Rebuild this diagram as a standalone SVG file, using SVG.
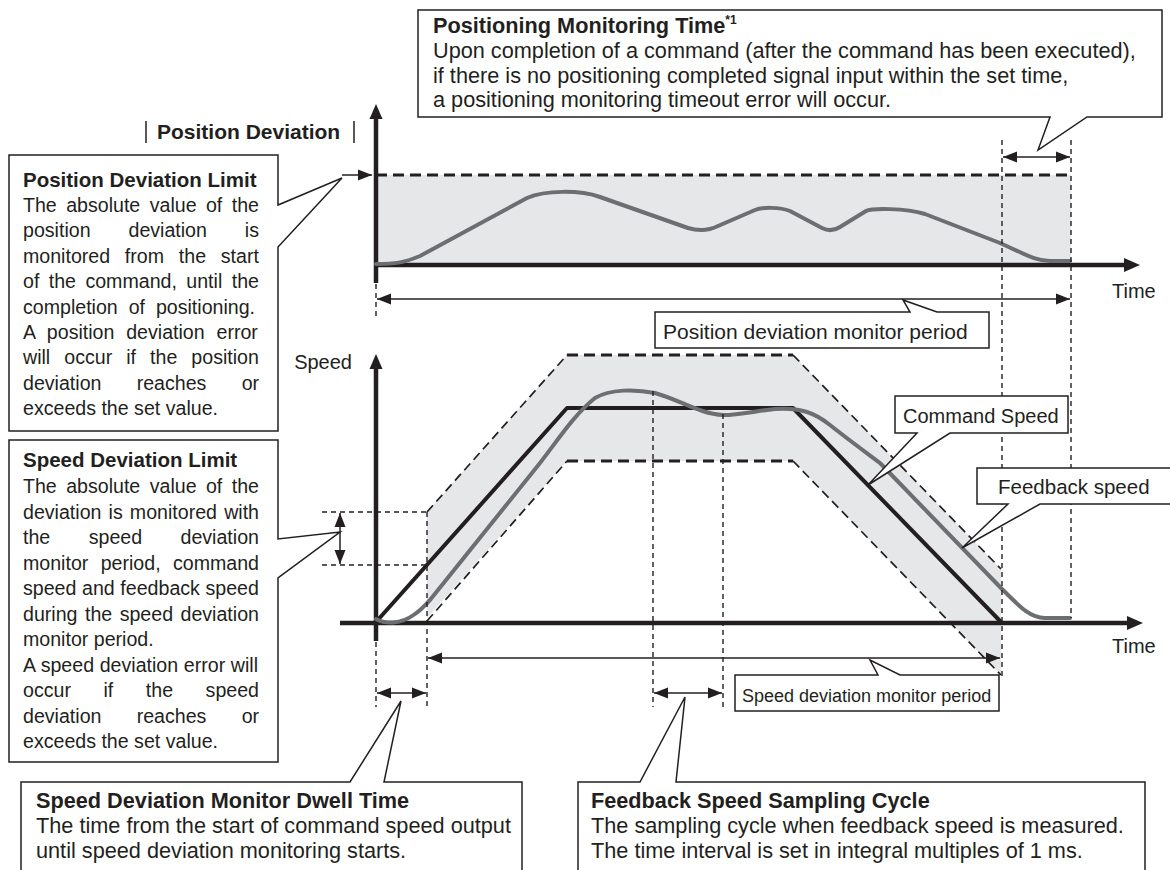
<svg xmlns="http://www.w3.org/2000/svg" width="1170" height="870" viewBox="0 0 1170 870">
<defs>
<style>
.t{font-family:"Liberation Sans",Arial,Helvetica,sans-serif;fill:#231f20}
.b{font-weight:bold}
.lb{font-size:19.6px}
.lt{font-size:20.5px;font-weight:bold}
.big{font-size:21.7px}
.box{fill:#fff;stroke:#231f20;stroke-width:1.5}
.thin{stroke:#231f20;stroke-width:1.5;fill:none}
.guide{stroke:#231f20;stroke-width:1.4;stroke-dasharray:5 4;fill:none}
.lim{stroke:#231f20;stroke-width:3;stroke-dasharray:11 6;fill:none}
.diag{stroke:#231f20;stroke-width:1.7;stroke-dasharray:9 5;fill:none}
.axis{stroke:#231f20;stroke-width:4.5;fill:none}
.cmd{stroke:#231f20;stroke-width:4;fill:none;stroke-linejoin:round}
.fb{stroke:#6d6e71;stroke-width:4;fill:none;stroke-linecap:round;stroke-linejoin:round}
.band{fill:#e6e7e8}
</style>
<marker id="ah" viewBox="0 0 14 12" refX="14" refY="6" markerWidth="14" markerHeight="12" markerUnits="userSpaceOnUse" orient="auto-start-reverse">
<path d="M0,0.5 L14,6 L0,11.5 Z" fill="#231f20"/>
</marker>
</defs>
<rect width="1170" height="870" fill="#fff"/>

<g id="position-graph">
<rect class="band" x="376" y="175" width="695" height="90"/>
<line class="lim" x1="376" y1="175" x2="1071" y2="175"/>
<line class="axis" x1="376" y1="116" x2="376" y2="283"/>
<polygon points="376,104 369.5,119 382.5,119" fill="#231f20"/>
<line class="axis" x1="376" y1="265" x2="1127" y2="265"/>
<polygon points="1140,265 1124,258 1124,272" fill="#231f20"/>
<path class="fb" d="M376,264 C395,264 403,263 420,256 L527,198 C545,190 580,190 600,197 L688,228 C698,231 708,231 718,226 L755,210 C762,207 780,207 790,211 L822,228 C828,231 834,231 840,227 L866,211 C872,208 905,208 925,214 L1000,243 C1025,254 1035,261 1050,261 L1070,261"/>
<text class="t" x="1112" y="298" font-size="20">Time</text>
</g>

<g id="position-deviation-label">
<line class="thin" x1="146" y1="121" x2="146" y2="143" stroke-width="2"/>
<text class="t b" x="157" y="139" font-size="21">Position Deviation</text>
<line class="thin" x1="354" y1="121" x2="354" y2="143" stroke-width="2"/>
</g>

<g id="speed-graph">
<polygon class="band" points="427,512 567,355 793,355 1001,569 1001,675 793,461 567,461 427,618"/>
<line class="lim" x1="567" y1="355" x2="793" y2="355" stroke-width="3.2"/>
<line class="lim" x1="567" y1="461" x2="793" y2="461" stroke-width="3.2"/>
<line class="diag" x1="427" y1="512" x2="567" y2="355"/>
<line class="diag" x1="793" y1="355" x2="1001" y2="569"/>
<line class="diag" x1="427" y1="621" x2="567" y2="461"/>
<line class="diag" x1="793" y1="461" x2="1001" y2="675"/>
<line class="axis" x1="376" y1="366" x2="376" y2="641"/>
<polygon points="376,354 369.5,369 382.5,369" fill="#231f20"/>
<line class="axis" x1="340" y1="623" x2="1130" y2="623"/>
<polygon points="1143,623 1127,616 1127,630" fill="#231f20"/>
<polyline class="cmd" points="376,622 567,408 793,408 1001,622"/>
<path class="fb" d="M376,619 C385,624 400,625 415,614 C422,609 426,604 430,600 L540,463 C560,437 575,414 595,398 C610,389 635,389 655,393 C680,400 700,414 723,415 C740,415 755,411 775,409 C800,407 815,413 830,425 C845,437 860,448 880,463 L1000,587 C1020,607 1030,618 1045,618 L1070,618"/>
<text class="t" x="352" y="369" font-size="20" text-anchor="end">Speed</text>
<text class="t" x="1112" y="653" font-size="20">Time</text>
</g>

<g id="connectors">
<line class="guide" x1="1002" y1="140" x2="1002" y2="676"/>
<line class="guide" x1="1071" y1="140" x2="1071" y2="618"/>
<line class="guide" x1="376" y1="284" x2="376" y2="318"/>
<line class="guide" x1="376" y1="642" x2="376" y2="707"/>
<line class="guide" x1="427" y1="512" x2="427" y2="707"/>
<line class="guide" x1="653" y1="391" x2="653" y2="707"/>
<line class="guide" x1="723" y1="414" x2="723" y2="707"/>
<line class="guide" x1="322" y1="512" x2="427" y2="512"/>
<line class="guide" x1="322" y1="565" x2="427" y2="565"/>
<line class="thin" x1="342" y1="175" x2="372" y2="175" marker-end="url(#ah)"/>
<line class="thin" x1="1003" y1="157" x2="1070" y2="157" stroke-width="2" marker-start="url(#ah)" marker-end="url(#ah)"/>
<line class="thin" x1="377" y1="299" x2="1070" y2="299" marker-start="url(#ah)" marker-end="url(#ah)"/>
<line class="thin" x1="428" y1="658" x2="1000" y2="658" marker-start="url(#ah)" marker-end="url(#ah)"/>
<line class="thin" x1="377" y1="693" x2="426" y2="693" stroke-width="2" marker-start="url(#ah)" marker-end="url(#ah)"/>
<line class="thin" x1="654" y1="693" x2="722" y2="693" stroke-width="2" marker-start="url(#ah)" marker-end="url(#ah)"/>
<line class="thin" x1="340" y1="513" x2="340" y2="564" stroke-width="2" marker-start="url(#ah)" marker-end="url(#ah)"/>
</g>

<g id="positioning-monitoring-time">
<path class="box" d="M418,10 H1162 V117 H1087 L1038,150 L1050,117 H418 Z"/>
<text class="t b big" x="433" y="33">Positioning Monitoring Time<tspan font-size="12" dy="-9">*1</tspan></text>
<text class="t big" x="433" y="58">Upon completion of a command (after the command has been executed),</text>
<text class="t big" x="433" y="83">if there is no positioning completed signal input within the set time,</text>
<text class="t big" x="433" y="107">a positioning monitoring timeout error will occur.</text>
</g>

<g id="position-deviation-limit">
<path class="box" d="M9,155 H278 V205 L342,178 L278,247 V431 H9 Z"/>
<text class="t lt" x="23" y="187">Position Deviation Limit</text>
<text class="t lb" x="23" y="212" word-spacing="3.98">The absolute value of the</text>
<text class="t lb" x="23" y="237.4" word-spacing="32.5">position deviation is</text>
<text class="t lb" x="23" y="262.8" word-spacing="9.3">monitored from the start</text>
<text class="t lb" x="23" y="288.2" word-spacing="3.98">of the command, until the</text>
<text class="t lb" x="23" y="313.6" word-spacing="5.46">completion of positioning.</text>
<text class="t lb" x="23" y="339" word-spacing="6.4">A position deviation error</text>
<text class="t lb" x="23" y="364.4" word-spacing="8.6">will occur if the position</text>
<text class="t lb" x="23" y="389.8" word-spacing="29.8">deviation reaches or</text>
<text class="t lb" x="23" y="415.2">exceeds the set value.</text>
</g>

<g id="speed-deviation-limit">
<path class="box" d="M9,440 H278 V539 L340,532 L278,578 V762 H9 Z"/>
<text class="t lt" x="23" y="467">Speed Deviation Limit</text>
<text class="t lb" x="23" y="493" word-spacing="3.98">The absolute value of the</text>
<text class="t lb" x="23" y="518.5" word-spacing="1.7">deviation is monitored with</text>
<text class="t lb" x="23" y="544" word-spacing="33">the speed deviation</text>
<text class="t lb" x="23" y="569.5" word-spacing="6.9">monitor period, command</text>
<text class="t lb" x="23" y="595" word-spacing="0.2">speed and feedback speed</text>
<text class="t lb" x="23" y="620.5" word-spacing="2.03">during the speed deviation</text>
<text class="t lb" x="23" y="646">monitor period.</text>
<text class="t lb" x="23" y="671.5" word-spacing="0.23">A speed deviation error will</text>
<text class="t lb" x="23" y="697" word-spacing="27.1">occur if the speed</text>
<text class="t lb" x="23" y="722.5" word-spacing="29.8">deviation reaches or</text>
<text class="t lb" x="23" y="748">exceeds the set value.</text>
</g>

<g id="position-deviation-monitor-period">
<path class="box" d="M655,312 H910 L903,300 L937,312 H989 V348 H655 Z"/>
<text class="t" x="663" y="339" font-size="21">Position deviation monitor period</text>
</g>

<g id="command-speed">
<path class="box" d="M895,396 H1068 V433 H950 L868,485 L917,433 H895 Z"/>
<text class="t" x="903" y="423" font-size="20">Command Speed</text>
</g>

<g id="feedback-speed">
<path class="box" d="M977,468 H1175 V504 H1040 L962,548 L1008,504 H977 Z"/>
<text class="t" x="998" y="494" font-size="20.5">Feedback speed</text>
</g>

<g id="speed-deviation-monitor-period">
<path class="box" d="M735,675 H878 L870,660 L900,675 H999 V711 H735 Z"/>
<text class="t" x="742" y="702" font-size="18">Speed deviation monitor period</text>
</g>

<g id="speed-deviation-monitor-dwell-time">
<path class="box" d="M21,782 H350 L401,701 L384,782 H522 V880 H21 Z"/>
<text class="t b big" x="36" y="808">Speed Deviation Monitor Dwell Time</text>
<text class="t big" x="36" y="833">The time from the start of command speed output</text>
<text class="t big" x="36" y="858">until speed deviation monitoring starts.</text>
</g>

<g id="feedback-speed-sampling-cycle">
<path class="box" d="M578,782 H640 L685,697 L676,782 H1145 V880 H578 Z"/>
<text class="t b big" x="591" y="808">Feedback Speed Sampling Cycle</text>
<text class="t big" x="591" y="833">The sampling cycle when feedback speed is measured.</text>
<text class="t big" x="591" y="858">The time interval is set in integral multiples of 1 ms.</text>
</g>
</svg>
